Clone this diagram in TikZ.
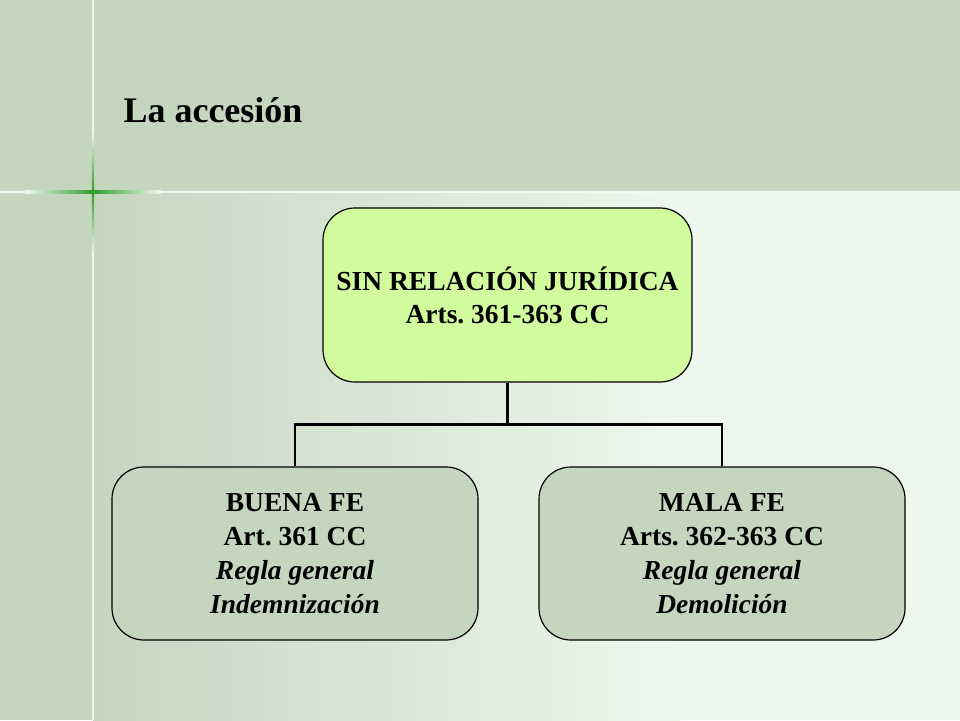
\documentclass[tikz,border=0pt]{standalone}
\usepackage{fontspec}
\setmainfont{Liberation Serif}
\usetikzlibrary{calc}
\definecolor{bandgreen}{HTML}{C5D6BF}
\definecolor{palegreen}{HTML}{EEF7EE}
\definecolor{limegreen}{HTML}{D2FB9E}
\definecolor{crossgreen}{HTML}{2E9E2A}
\frenchspacing

\begin{document}
\begin{tikzpicture}[x=1pt, y=-1pt,
	topbox/.style={draw=black, line width=1.2pt, rounded corners=32pt, fill=limegreen,
		minimum width=369pt, minimum height=174pt, align=center,
		font=\fontsize{27.5}{33}\selectfont\bfseries},
	subbox/.style={draw=black, line width=1.2pt, rounded corners=32pt, fill=bandgreen,
		minimum width=366pt, minimum height=173pt, align=center,
		font=\fontsize{27.5}{34}\selectfont\bfseries},
	link/.style={line width=2.8pt, black}]
	\useasboundingbox (0,0) rectangle (960,720);
	% background
	\fill[bandgreen] (0,0) rectangle (960,192);
	\fill[bandgreen] (0,0) rectangle (93,720);
	\shade[left color=bandgreen, right color=palegreen] (93,192) rectangle (680,720);
	\fill[palegreen] (679,192) rectangle (960,720);
	\draw[white!80!bandgreen, line width=1.6pt] (0,192) -- (960,192);
	\draw[white!80!bandgreen, line width=1.6pt] (93,0) -- (93,720);
	\shade[top color=white!80!bandgreen, bottom color=white!80!bandgreen, middle color=crossgreen]
		(91.8,130) rectangle (94.2,254);
	\shade[left color=white!80!bandgreen, right color=white!80!bandgreen, middle color=crossgreen]
		(25,190.8) rectangle (161,193.2);
	\node (title) at (213,110) {\fontsize{36}{40}\selectfont\bfseries La accesión};

	\node[topbox] (sinrel) at (507.5,295) {SIN RELACIÓN JURÍDICA\\Arts. 361-363 CC};
	\node[subbox] (buena) at (295,553.5) {BUENA FE\\Art. 361 CC\\\textit{Regla general}\\\textit{Indemnización}};
	\node[subbox] (mala) at (722,553.5) {MALA FE\\Arts. 362-363 CC\\\textit{Regla general}\\\textit{Demolición}};

	\coordinate (fork) at ($(sinrel.south)+(0,42)$);
	\draw[link] (sinrel.south) -- (fork);
	\draw[link] (buena.north) |- (fork) -| (mala.north);
\end{tikzpicture}
\end{document}
